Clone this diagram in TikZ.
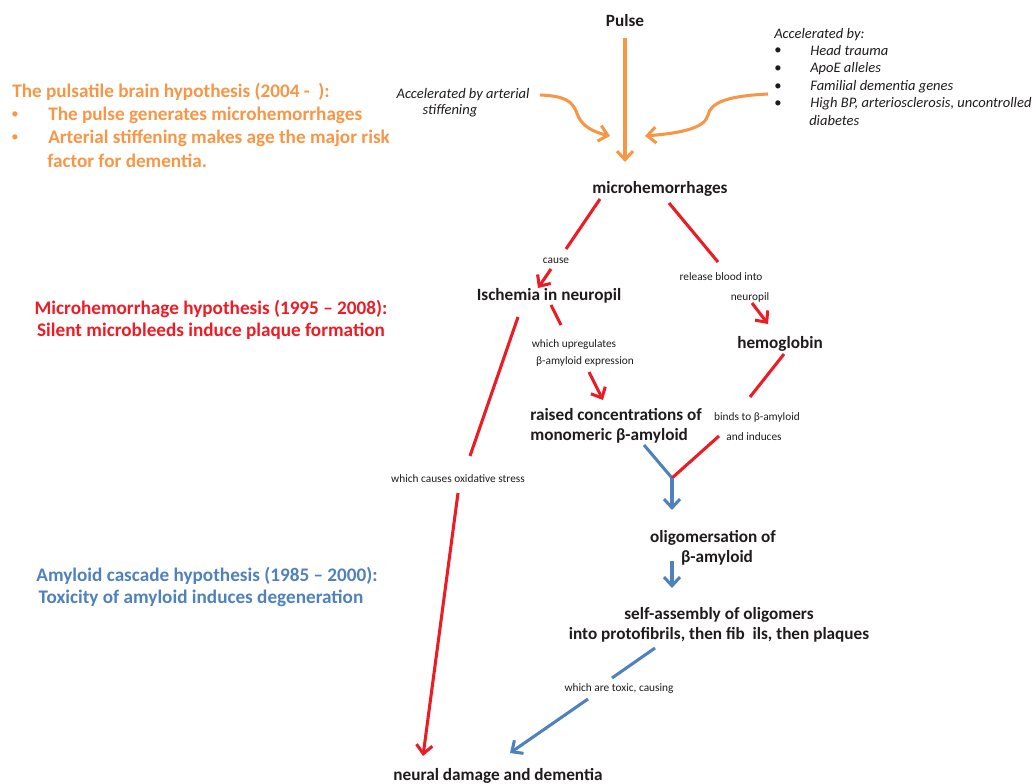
\documentclass[tikz,border=0pt]{standalone}
\usepackage{fontspec}
\setmainfont{Carlito}
\usetikzlibrary{arrows.meta}
\definecolor{txt}{HTML}{1F1B1C}
\definecolor{myorange}{HTML}{F79646}
\definecolor{myred}{HTML}{ED1C24}
\definecolor{myblue}{HTML}{4F81BD}
\begin{document}
\begin{tikzpicture}[x=0.75pt,y=-0.75pt,
  every node/.style={inner sep=0pt, text=txt},
  mainnode/.style={font=\bfseries\fontsize{12.9}{15}\selectfont},
  smalllbl/.style={font=\fontsize{8.5}{10}\selectfont},
  acctext/.style={font=\itshape\fontsize{10.9}{13}\selectfont},
  hyptext/.style={font=\bfseries\fontsize{14.4}{17}\selectfont},
  bul/.style={font=\fontsize{11}{13}\selectfont},
  tip/.style={-{Straight Barb[length=6.5pt,width=12pt]}},
  redln/.style={draw=myred, line width=2.3pt},
  blueln/.style={draw=myblue, line width=2.3pt},
  orangeln/.style={draw=myorange, line width=2.3pt},
]
\useasboundingbox (0,0) rectangle (1032,783);

% ---- hypothesis texts ----
\node[hyptext, text=myorange, anchor=west] (h1) at (12,92) {The pulsatile brain hypothesis (2004 -\ \ ):};
\node[bul, text=myorange] (h1b1) at (15,115) {\textbullet};
\node[hyptext, text=myorange, anchor=west] (h1i1) at (48,115) {The pulse generates microhemorrhages};
\node[bul, text=myorange] (h1b2) at (15,138) {\textbullet};
\node[hyptext, text=myorange, anchor=west] (h1i2) at (48,138) {Arterial stiffening makes age the major risk};
\node[hyptext, text=myorange, anchor=west] (h1i3) at (47,161) {factor for dementia.};

\node[hyptext, text=myred, align=center] (h2) at (211,320) {Microhemorrhage hypothesis (1995 -- 2008):\\Silent microbleeds induce plaque formation};

\node[hyptext, text=myblue] (h3a) at (207,576) {Amyloid cascade hypothesis (1985 -- 2000):};
\node[hyptext, text=myblue] (h3b) at (201,598) {Toxicity of amyloid induces degeneration};

% ---- accelerating factors ----
\node[acctext] (accL1) at (463,95) {Accelerated by arterial};
\node[acctext] (accL2) at (450,111) {stiffening};

\node[acctext, anchor=west] (accR) at (774,35) {Accelerated by:};
\foreach \yy/\tx [count=\i] in {51/Head trauma, 69/ApoE alleles, 87/Familial dementia genes, 104/{High BP, arteriosclerosis, uncontrolled}}{
  \node[bul] (accb\i) at (778,\yy) {\textbullet};
  \node[acctext, anchor=west] (acci\i) at (810,\yy) {\tx};
}
\node[acctext, anchor=west] (acci5) at (809,121) {diabetes};

% ---- main nodes ----
\node[mainnode] (pulse) at (625,21) {Pulse};
\node[mainnode] (micro) at (660,189) {microhemorrhages};
\node[mainnode] (isch) at (549,296) {Ischemia in neuropil};
\node[mainnode] (hemo) at (780,344) {hemoglobin};
\node[mainnode, anchor=west, align=left] (raised) at (530,426) {raised concentrations of\\monomeric β-amyloid};
\node[mainnode, align=center] (oligo) at (713,547.5) {oligomersation of\\\hspace*{6pt}β-amyloid};
\node[mainnode, align=center] (self) at (719,624.5) {self-assembly of oligomers\\into protofibrils, then fib\ \ ils, then plaques};
\node[mainnode] (neural) at (498,776) {neural damage and dementia};

% ---- small labels ----
\node[smalllbl] (lcause) at (556,261) {cause};
\node[smalllbl] (lrel1) at (721,277) {release blood into};
\node[smalllbl] (lrel2) at (750,297) {neuropil};
\node[smalllbl] (lup1) at (574,345) {which upregulates};
\node[smalllbl] (lup2) at (585,362) {β-amyloid expression};
\node[smalllbl] (lbind1) at (757,418) {binds to β-amyloid};
\node[smalllbl] (lbind2) at (754,437) {and induces};
\node[smalllbl] (lox) at (458,479) {which causes oxidative stress};
\node[smalllbl] (ltox) at (619,689) {which are toxic, causing};

% ---- connector end points ----
\coordinate (pA) at (625,38);  \coordinate (pB) at (625,162);
\coordinate (lA) at (540,95);  \coordinate (lB) at (610,136);
\coordinate (rA) at (768,94);  \coordinate (rB) at (645,136);
\coordinate (c1) at (600,199); \coordinate (c2) at (566,249);
\coordinate (c3) at (551,269); \coordinate (c4) at (538,288);
\coordinate (r1) at (669,203); \coordinate (r2) at (718,262);
\coordinate (r3) at (752,303); \coordinate (r4) at (768,324);
\coordinate (u1) at (551,305); \coordinate (u2) at (561,325);
\coordinate (u3) at (589,372); \coordinate (u4) at (603,400);
\coordinate (b1) at (784,354); \coordinate (b2) at (750,397);
\coordinate (b3) at (719,436); \coordinate (jn) at (672,478);
\coordinate (m1) at (644,445); \coordinate (jB) at (672,510);
\coordinate (o1) at (518,317); \coordinate (o2) at (470,456);
\coordinate (o3) at (458,493); \coordinate (o4) at (423,756);
\coordinate (g1) at (672,561); \coordinate (g2) at (672,588);
\coordinate (t1) at (655,648); \coordinate (t2) at (612,678);
\coordinate (t3) at (588,699); \coordinate (t4) at (510,753);

% ---- orange connectors ----
\draw[orangeln, tip] (pA) -- (pB);
\draw[orangeln, tip] (lA) .. controls (575,96) and (574,108) .. (579,118) .. controls (585,129) and (598,133) .. (lB);
\draw[orangeln, tip] (rA) .. controls (728,96) and (711,102) .. (708,115) .. controls (705,128) and (682,133) .. (rB);

% ---- red connectors ----
\draw[redln] (c1) -- (c2);
\draw[redln, tip] (c3) -- (c4);
\draw[redln] (r1) -- (r2);
\draw[redln, tip] (r3) -- (r4);
\draw[redln] (u1) -- (u2);
\draw[redln, tip] (u3) -- (u4);
\draw[redln] (b1) -- (b2);
\draw[redln] (o1) -- (o2);
\draw[redln, tip] (o3) -- (o4);

% ---- blue connectors ----
\draw[blueln] (m1) -- (jn);
\draw[redln] (b3) -- (jn);
\draw[blueln, tip] (jn) -- (jB);
\draw[blueln, tip] (g1) -- (g2);
\draw[blueln] (t1) -- (t2);
\draw[blueln, tip] (t3) -- (t4);
\end{tikzpicture}
\end{document}
